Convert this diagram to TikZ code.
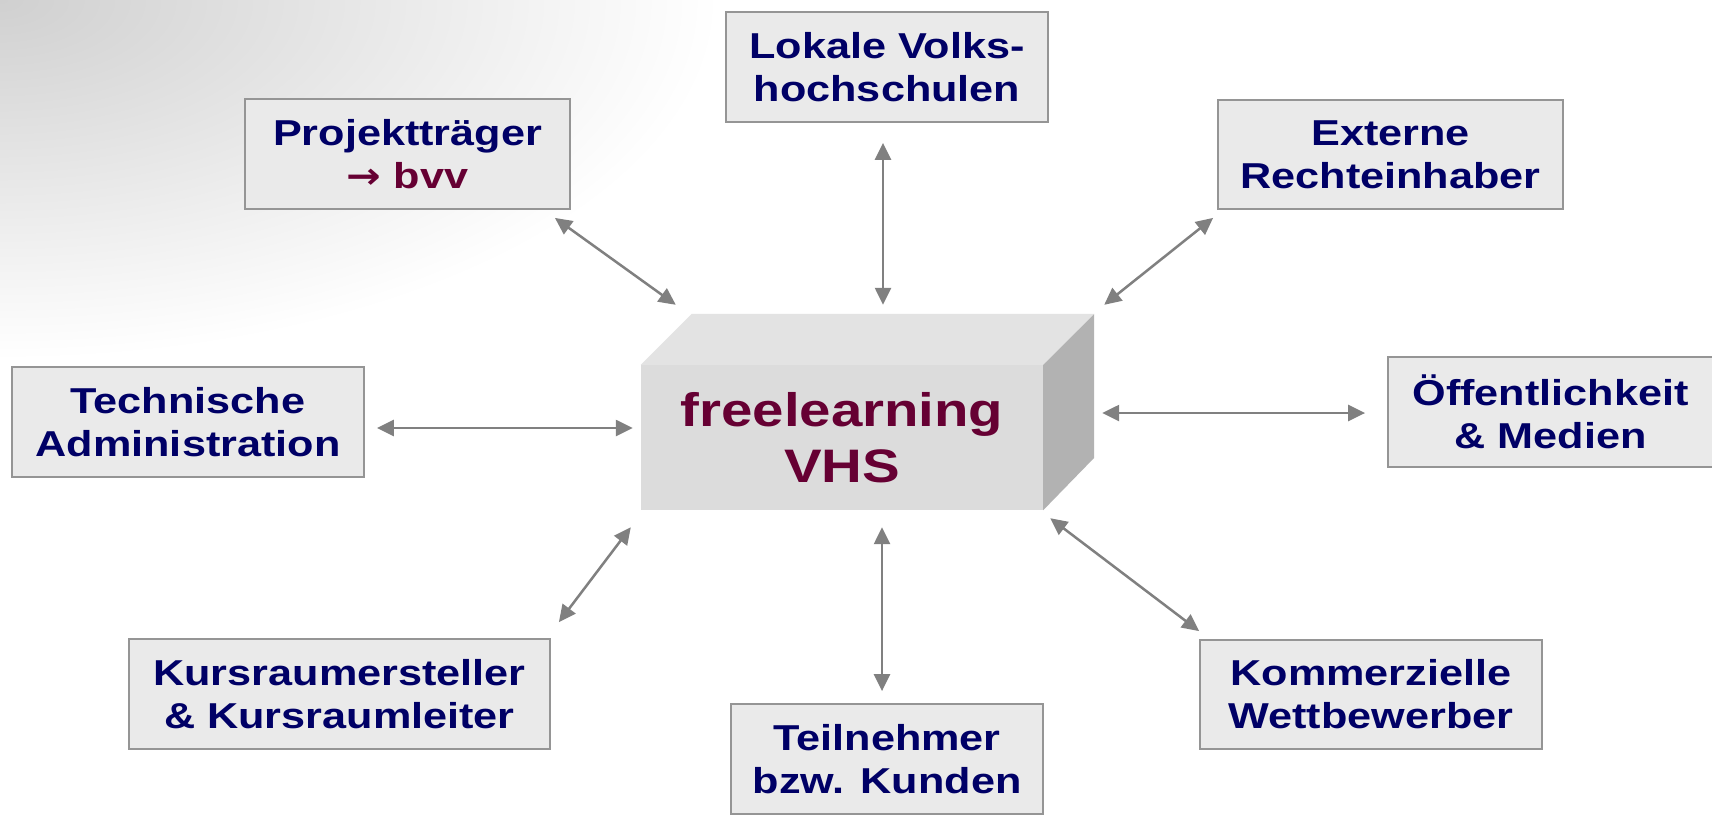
\documentclass[tikz,border=0pt]{standalone}
\usepackage{fontspec}
\setmainfont{Liberation Sans}[FakeStretch=1.2]
\newfontfamily\symfont{DejaVu Sans}[FakeStretch=1.15]
\usetikzlibrary{arrows.meta}
\definecolor{navytxt}{HTML}{000066}
\definecolor{maroontxt}{HTML}{660033}
\definecolor{boxfill}{HTML}{EAEAEA}
\definecolor{boxline}{HTML}{959595}
\definecolor{arrowgray}{HTML}{808080}
\definecolor{cubefront}{HTML}{DCDCDC}
\definecolor{cubetop}{HTML}{E3E3E3}
\definecolor{cubeside}{HTML}{B2B2B2}
\definecolor{bggray}{HTML}{D0D0D0}
\begin{document}
\begin{tikzpicture}[x=1pt,y=-1pt,
  partner/.style={draw=boxline, line width=1.8pt, fill=boxfill, inner sep=0pt,
    text=navytxt, align=center, font=\bfseries\fontsize{36}{43}\selectfont},
  link/.style={draw=arrowgray, line width=2.5pt,
    {Triangle[length=17pt,width=16pt]}-{Triangle[length=17pt,width=16pt]}}]
\useasboundingbox (0,0) rectangle (1712,817);
\fill[white] (0,0) rectangle (1712,817);
% background texture (top-left)
\begin{scope}
\clip (0,0) rectangle (1712,817);
\shade[inner color=bggray, outer color=white] (0,0) ellipse (720 and 360);
\end{scope}

% central cube
\node[fill=cubefront, minimum width=402pt, minimum height=145pt, inner sep=0pt,
  text=maroontxt, align=center, font=\bfseries\fontsize{47}{56}\selectfont]
  (vhs) at (842,437.5) {freelearning\\VHS};
\fill[cubetop] (vhs.north west) -- ++(51,-51) -- ++(402,0) -- (vhs.north east) -- cycle;
\fill[cubeside] (vhs.north east) -- ++(51,-51) -- ++(0,144) -- (vhs.south east) -- cycle;

% partner boxes
\node[partner, minimum width=322pt, minimum height=110pt] (lok) at (887,67) {Lokale Volks-\\hochschulen};
\node[partner, minimum width=325pt, minimum height=110pt] (proj) at (407.5,154) {Projektträger\\{\color{maroontxt}{\symfont\bfseries →} bvv}};
\node[partner, minimum width=345pt, minimum height=109pt] (ext) at (1390.5,154.5) {Externe\\Rechteinhaber};
\node[partner, minimum width=352pt, minimum height=110pt] (tech) at (188,422) {Technische\\Administration};
\node[partner, minimum width=325pt, minimum height=110pt] (oef) at (1550.5,412) {Öffentlichkeit\\\& Medien};
\node[partner, minimum width=421pt, minimum height=110pt] (kurs) at (339.5,694) {Kursraumersteller\\\& Kursraumleiter};
\node[partner, minimum width=312pt, minimum height=110pt] (teil) at (887,759) {Teilnehmer\\bzw. Kunden};
\node[partner, minimum width=342pt, minimum height=109pt] (komm) at (1371,694.5) {Kommerzielle\\Wettbewerber};

% connectors
\draw[link] ([shift={(-16,8)}]proj.south east) -- ([shift={(35,-60)}]vhs.north west);
\draw[link] ([shift={(-4,20)}]lok.south) -- ([shift={(41,-60)}]vhs.north);
\draw[link] ([shift={(-4,8)}]ext.south west) -- ([shift={(61,-60)}]vhs.north east);
\draw[link] ([shift={(12,6)}]tech.east) -- ([shift={(-8,-9.5)}]vhs.west);
\draw[link] ([shift={(59,-24.5)}]vhs.east) -- ([shift={(-22,1)}]oef.west);
\draw[link] ([shift={(8,-16)}]kurs.north east) -- ([shift={(-10,17)}]vhs.south west);
\draw[link] ([shift={(40,17)}]vhs.south) -- ([shift={(-5,-12)}]teil.north);
\draw[link] ([shift={(7,8)}]vhs.south east) -- ([shift={(0,-8)}]komm.north west);
\end{tikzpicture}
\end{document}
